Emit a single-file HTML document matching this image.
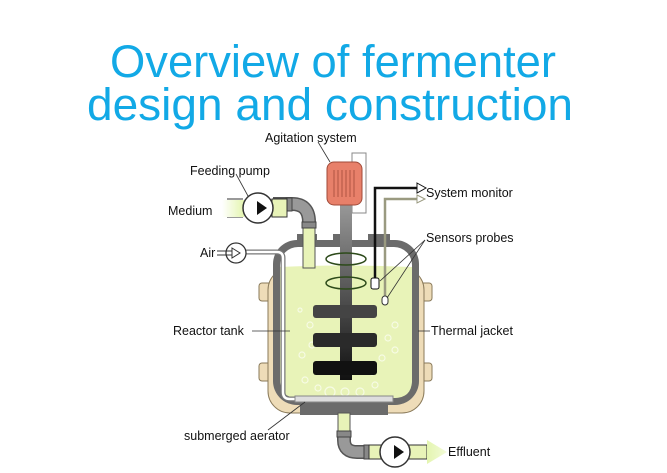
<!DOCTYPE html>
<html><head><meta charset="utf-8"><style>
html,body{margin:0;padding:0;background:#fff;width:667px;height:473px;overflow:hidden}
svg{display:block}
text{font-family:"Liberation Sans",sans-serif}
</style></head><body>
<svg width="667" height="473" viewBox="0 0 667 473" xmlns="http://www.w3.org/2000/svg">
<defs>
<linearGradient id="sh" x1="0" y1="0" x2="0" y2="1"><stop offset="0" stop-color="#999"/><stop offset="1" stop-color="#111"/></linearGradient>
<linearGradient id="hz" x1="0" y1="0" x2="1" y2="0"><stop offset="0" stop-color="#fff"/><stop offset="1" stop-color="#e4f5b0"/></linearGradient>
<linearGradient id="hz2" x1="0" y1="0" x2="1" y2="0"><stop offset="0" stop-color="#e4f5b0"/><stop offset="1" stop-color="#f2fbd8"/></linearGradient>
</defs>
<text x="333" y="77" text-anchor="middle" font-size="45" fill="#12a9e6" textLength="446" lengthAdjust="spacingAndGlyphs">Overview of fermenter</text>
<text x="330" y="120" text-anchor="middle" font-size="45" fill="#12a9e6" textLength="486" lengthAdjust="spacingAndGlyphs">design and construction</text>

<!-- jacket -->
<rect x="259" y="283" width="14" height="18" rx="3" fill="#eedcb8" stroke="#8a7a5a"/>
<rect x="259" y="363" width="14" height="18" rx="3" fill="#eedcb8" stroke="#8a7a5a"/>
<rect x="418" y="283" width="14" height="18" rx="3" fill="#eedcb8" stroke="#8a7a5a"/>
<rect x="418" y="363" width="14" height="18" rx="3" fill="#eedcb8" stroke="#8a7a5a"/>
<rect x="268" y="268" width="156" height="145" rx="22" fill="#eedcb8" stroke="#8a7a5a"/>
<!-- vessel -->
<rect x="297" y="234" width="20" height="10" fill="#6b6b6b"/>
<rect x="333" y="234" width="18" height="10" fill="#6b6b6b"/>
<rect x="368" y="234" width="22" height="10" fill="#6b6b6b"/>
<rect x="300" y="398" width="88" height="17" fill="#6b6b6b"/>
<rect x="273" y="240" width="146" height="165" rx="24" fill="#6b6b6b"/>
<rect x="280" y="247" width="132" height="151" rx="18" fill="#fff"/>
<path d="M280 267 Q340 264 412 267 L412 380 Q412 398 394 398 L298 398 Q280 398 280 380Z" fill="#e8f3b8"/>
<g fill="none" stroke="#f6fbe4" stroke-width="1.2">
<circle cx="312" cy="345" r="3"/><circle cx="302" cy="355" r="3"/><circle cx="318" cy="370" r="4"/><circle cx="305" cy="380" r="3"/><circle cx="330" cy="392" r="5"/><circle cx="318" cy="388" r="3"/><circle cx="345" cy="392" r="4"/><circle cx="360" cy="392" r="4"/><circle cx="375" cy="385" r="3"/><circle cx="382" cy="358" r="3"/><circle cx="395" cy="350" r="3"/><circle cx="395" cy="325" r="3"/><circle cx="310" cy="325" r="3"/><circle cx="300" cy="310" r="2"/><circle cx="388" cy="338" r="3"/><circle cx="372" cy="372" r="3"/>
</g>
<!-- air line -->
<path d="M246 252 L277 252 Q283 252 283 258 L283 392 Q283 399 290 399 L298 399" fill="none" stroke="#777" stroke-width="5"/>
<path d="M246 252 L277 252 Q283 252 283 258 L283 392 Q283 399 290 399 L298 399" fill="none" stroke="#fff" stroke-width="2.5"/>
<rect x="295" y="396" width="98" height="6" fill="#ddd" stroke="#888"/>
<!-- feed pipe -->
<rect x="303" y="228" width="12" height="40" fill="#e8f3b8" stroke="#555"/>
<path d="M273 204 L292 204 Q309 204 309 222 L309 228" fill="none" stroke="#555" stroke-width="14"/>
<path d="M273 204 L292 204 Q309 204 309 222 L309 228" fill="none" stroke="#999" stroke-width="11"/>
<rect x="286" y="198" width="6" height="13" fill="#888" stroke="#444"/>
<rect x="302" y="222" width="14" height="6" fill="#888" stroke="#444"/>
<path d="M227 199 L243 199 M227 217 L243 217" stroke="#333"/>
<rect x="222" y="200" width="22" height="17" fill="url(#hz)"/>
<rect x="272" y="199" width="15" height="18" fill="#e8f3b8" stroke="#333"/>
<circle cx="258" cy="208" r="15" fill="#fff" stroke="#333" stroke-width="1.5"/>
<path d="M257 201 L267 208 L257 215Z" fill="#111"/>
<!-- air pump -->
<circle cx="236" cy="253" r="10" fill="#fff" stroke="#333" stroke-width="1.3"/>
<path d="M232 248 L240 253 L232 258Z" fill="#fff" stroke="#333"/>
<path d="M217 251 L232 251 M217 255 L232 255" stroke="#333"/>
<!-- shaft & motor -->
<rect x="352" y="153" width="14" height="60" fill="#fff" stroke="#888"/>
<rect x="340" y="203" width="12" height="177" fill="url(#sh)"/>
<rect x="327" y="162" width="35" height="43" rx="7" fill="#e8806a" stroke="#a04a38"/>
<g stroke="#a04a38" stroke-width="0.8"><line x1="334" y1="170" x2="334" y2="197"/><line x1="338" y1="170" x2="338" y2="197"/><line x1="342" y1="170" x2="342" y2="197"/><line x1="346" y1="170" x2="346" y2="197"/><line x1="350" y1="170" x2="350" y2="197"/><line x1="354" y1="170" x2="354" y2="197"/></g>
<rect x="313" y="305" width="64" height="13" rx="3" fill="#444"/>
<rect x="313" y="333" width="64" height="14" rx="3" fill="#2a2a2a"/>
<rect x="313" y="361" width="64" height="14" rx="3" fill="#111"/>
<g fill="none" stroke="#2d4a1a" stroke-width="1.5"><ellipse cx="346" cy="259" rx="20" ry="6"/><ellipse cx="346" cy="283" rx="20" ry="6"/></g>
<!-- sensors -->
<path d="M375 280 L375 188 L418 188" fill="none" stroke="#111" stroke-width="2.5"/>
<path d="M385 298 L385 199 L418 199" fill="none" stroke="#9a9a80" stroke-width="2.5"/>
<path d="M417 183 L426 188 L417 193Z" fill="#fff" stroke="#111"/>
<path d="M417 195 L425 199 L417 203Z" fill="#fff" stroke="#9a9a80"/>
<rect x="371" y="278" width="8" height="11" rx="2" fill="#fff" stroke="#111"/>
<rect x="382" y="296" width="6" height="9" rx="3" fill="#fff" stroke="#333"/>
<!-- outlet -->
<rect x="338" y="413" width="12" height="20" fill="#e8f3b8" stroke="#555"/>
<path d="M344 433 L344 440 Q344 452 357 452 L367 452" fill="none" stroke="#555" stroke-width="14"/>
<path d="M344 433 L344 440 Q344 452 357 452 L367 452" fill="none" stroke="#999" stroke-width="11"/>
<rect x="337" y="431" width="14" height="6" fill="#888" stroke="#444"/>
<rect x="364" y="445" width="6" height="14" fill="#888" stroke="#444"/>
<rect x="369" y="445" width="13" height="14" fill="#e8f3b8" stroke="#333"/>
<rect x="408" y="445" width="19" height="14" fill="#e8f3b8" stroke="#333"/>
<path d="M427 440 L447 452 L427 464Z" fill="url(#hz2)"/>
<circle cx="395" cy="452" r="15" fill="#fff" stroke="#333" stroke-width="1.5"/>
<path d="M394 445 L404 452 L394 459Z" fill="#111"/>
<!-- leader lines -->
<g stroke="#333" stroke-width="0.8" fill="none">
<line x1="318" y1="142" x2="330" y2="162"/>
<line x1="236" y1="174" x2="248" y2="196"/>
<line x1="425" y1="240" x2="380" y2="281"/>
<line x1="425" y1="240" x2="387" y2="298"/>
<line x1="252" y1="331" x2="290" y2="331"/>
<line x1="418" y1="331" x2="430" y2="331"/>
<line x1="268" y1="430" x2="305" y2="402"/>
</g>
<g font-size="12.5" fill="#111">
<text x="265" y="142">Agitation system</text>
<text x="190" y="175">Feeding pump</text>
<text x="168" y="215">Medium</text>
<text x="200" y="257">Air</text>
<text x="426" y="197">System monitor</text>
<text x="426" y="242">Sensors probes</text>
<text x="173" y="335">Reactor tank</text>
<text x="431" y="335">Thermal jacket</text>
<text x="184" y="440">submerged aerator</text>
<text x="448" y="456">Effluent</text>
</g>
</svg>
</body></html>
